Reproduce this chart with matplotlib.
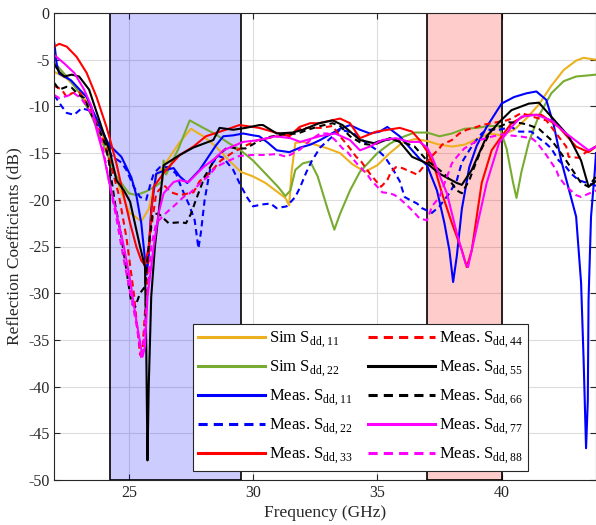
import matplotlib
matplotlib.use('Agg')
import matplotlib.pyplot as plt
from matplotlib.patches import Rectangle

plt.rcParams['font.family'] = ['Liberation Serif', 'DejaVu Serif']
plt.rcParams['mathtext.fontset'] = 'custom'
plt.rcParams['mathtext.rm'] = 'Liberation Serif'
plt.rcParams['axes.unicode_minus'] = False
plt.rcParams['font.size'] = 11

# Sim S_dd,11
f_sim11 = [22, 22.5, 23, 23.5, 24, 24.25, 24.6, 25, 25.5, 25.8, 26.1, 26.5, 27, 27.5, 28, 28.5, 29,
           29.5, 30, 30.5, 31, 31.3, 31.45, 31.55, 31.7, 32, 32.5, 33, 33.5, 34, 34.5, 35, 35.5, 36,
           36.5, 37, 37.5, 38, 38.5, 39, 39.5, 40, 40.5, 41, 41.5, 42, 42.5, 43, 43.3, 43.8]
s_sim11 = [-6.3, -7, -8.3, -10.3, -13.5, -15.3, -18.5, -21.3, -22.3, -21, -17.5, -16, -14, -12.4, -13.2,
           -14.3, -15.7, -17, -17.5, -18.2, -19.2, -19.8, -20.6, -17, -13.9, -13.8, -14.1, -14.5, -15,
           -16.2, -17, -16.3, -15, -13.9, -13.5, -13.7, -14.1, -14.3, -14.1, -13.5, -12.9, -13.1, -12.5,
           -11.3, -9.8, -7.8, -6.1, -5.1, -4.8, -5.0]

# Sim S_dd,22
f_sim22 = [22, 22.5, 23, 23.5, 24, 24.5, 25, 25.3, 25.7, 26.1, 26.35, 26.4, 26.5, 27, 27.45, 28, 28.5,
           29, 29.5, 30, 30.5, 31, 31.3, 31.5, 31.7, 32, 32.3, 32.6, 33, 33.27, 33.5, 33.9, 34.3, 35,
           35.5, 36, 36.5, 37, 37.5, 38, 38.5, 39, 39.5, 39.9, 40.2, 40.45, 40.6, 40.8, 41.1, 41.5, 42,
           42.5, 43, 43.8]
s_sim22 = [-5.3, -6.8, -8.5, -11, -14.3, -17.5, -19.3, -19.5, -19.1, -18.5, -18, -15.8, -17.3, -14.5,
           -11.5, -12.3, -13, -13.9, -14.7, -15.8, -17.2, -18.6, -19.6, -19, -16.8, -16.1, -15.9, -17.5,
           -21, -23.2, -21.5, -19, -17, -15, -14, -13.3, -12.8, -12.8, -13.2, -12.9, -12.4, -12.3, -12.1,
           -12.1, -14.5, -18, -19.8, -17, -13.8, -11, -8.6, -7.3, -6.8, -6.6]

# Meas. S_dd,11
f_m11 = [22, 22.1, 22.2, 22.67, 23.3, 23.9, 24.2, 24.7, 25.1, 25.3, 25.5, 25.65, 25.72, 25.8, 25.9,
         26.1, 26.5, 26.8, 27.05, 27.35, 27.85, 28.5, 28.8, 29.2, 29.6, 30, 30.25, 30.6, 30.95, 31.46,
         31.9, 32.3, 32.7, 33.5, 33.9, 34.3, 34.7, 35.1, 35.4, 35.9, 36.4, 36.7, 37, 37.4, 37.7, 37.9,
         38.05, 38.2, 38.4, 38.7, 39, 39.4, 40, 40.5, 41, 41.4, 41.8, 42.1, 42.4, 43, 43.2, 43.3, 43.4,
         43.47, 43.5, 43.6, 43.75, 43.8]
s_m11 = [-3.2, -5.5, -6.5, -7.2, -9, -12.5, -14.1, -15.4, -17.6, -19.5, -22.5, -26.4, -28, -26, -21,
         -17.2, -16.8, -16.6, -17.5, -18.2, -16.8, -14.2, -13.2, -13.1, -12.9, -13.1, -13.2, -13.9,
         -14.7, -14.9, -14.4, -14.1, -13.6, -12.4, -12, -12.5, -12.9, -12.7, -12.2, -13.2, -14.7, -15.6,
         -16.3, -19, -22.5, -25.4, -28.8, -26, -21, -16.5, -14.2, -12.2, -9.7, -9, -8.6, -8.4, -9.3, -12,
         -15.8, -21.8, -28.9, -37, -46.6, -41.5, -30.7, -21.8, -17, -15]

# Meas. S_dd,22
f_m22 = [22, 22.3, 22.5, 22.8, 23.1, 23.5, 24, 24.3, 24.7, 24.9, 25.2, 25.45, 25.7, 25.85, 26, 26.25,
         26.6, 26.9, 27.1, 27.45, 27.65, 27.8, 27.9, 28.05, 28.3, 28.6, 28.8, 29.2, 29.45, 29.75, 30,
         30.35, 30.7, 30.95, 31.35, 31.7, 31.9, 32.15, 32.35, 32.7, 33.2, 33.5, 34, 34.5, 35.1, 35.3,
         35.6, 35.9, 36.1, 36.3, 36.6, 36.8, 37.2, 37.5, 37.9, 38.2, 38.4, 38.7, 38.9, 39.2, 39.4, 39.9,
         40.4, 40.7, 41.2, 41.5, 41.8, 42, 42.3, 42.6, 42.8, 43.1, 43.8]
s_m22 = [-8.8, -10, -10.7, -10.9, -10.2, -10.5, -13, -15.3, -16, -16.8, -18.6, -19.7, -20, -18.5, -17.2,
         -16.5, -16.5, -17.2, -18.6, -20.7, -22.2, -25.2, -23.5, -20, -16.3, -15.3, -15.5, -16.8, -18.2,
         -19.7, -20.7, -20.5, -20.4, -20.9, -20.7, -19.7, -18.6, -17, -15.9, -14.4, -13.2, -12.5, -12.8,
         -13.8, -14.9, -15.4, -16.6, -18, -19.7, -20, -20.4, -20.9, -21.4, -20.7, -19.3, -17.9, -16,
         -14.7, -13.9, -12.9, -12.5, -12.5, -12.2, -12.7, -12.7, -13.4, -14, -14.5, -15.8, -16.5, -17.2,
         -17.9, -18.5]

# Meas. S_dd,33
f_m33 = [22, 22.2, 22.5, 22.9, 23.3, 23.7, 24.1, 24.3, 24.5, 24.65, 25.05, 25.3, 25.5, 25.65, 25.8,
         25.9, 26, 26.5, 27.05, 27.6, 28.1, 28.9, 29.45, 30, 30.25, 30.9, 31.46, 31.87, 32.3, 32.66,
         33.5, 33.9, 34.3, 34.96, 35.9, 36.4, 36.7, 37, 37.3, 37.6, 38, 38.4, 38.6, 38.8, 39.2, 39.6, 40,
         40.4, 41, 41.6, 42.3, 43, 43.5, 43.8]
s_m33 = [-3.6, -3.3, -3.6, -4.7, -6.4, -9, -12.2, -14.1, -16.1, -17.9, -22.5, -25, -26.5, -27, -25,
         -21.5, -18.6, -16.8, -15.2, -14.3, -13.2, -12.5, -12, -12.2, -12.3, -12.8, -13.2, -12.2, -11.8,
         -11.8, -11.3, -11.8, -13.4, -12.7, -12.3, -12.7, -13.6, -14.8, -16.5, -19.3, -22.5, -25.4,
         -27.2, -25.4, -18.2, -14.7, -13.2, -11.8, -10.9, -10.9, -12.2, -14.3, -14.9, -14.3]

# Meas. S_dd,44
f_m44 = [22, 22.3, 22.5, 22.7, 23, 23.5, 24, 24.3, 24.6, 24.9, 25.2, 25.45, 25.55, 25.7, 25.85, 26.1,
         26.4, 26.7, 27.05, 27.6, 27.85, 28.1, 28.4, 28.7, 29.2, 29.7, 30.2, 30.8, 31.4, 32, 32.7, 33.2,
         33.5, 33.75, 33.9, 34.15, 34.35, 34.7, 34.95, 35.15, 35.4, 35.55, 35.75, 36, 36.35, 36.6, 36.9,
         37.2, 37.5, 37.6, 38, 38.3, 38.6, 39, 39.2, 40.2, 40.4, 40.8, 41.1, 41.8, 42, 42.6, 42.7, 43.1,
         43.5, 43.8]
s_m44 = [-7.8, -8.2, -9, -8.6, -8.4, -10.5, -13.8, -16.5, -19.5, -24, -30, -36.6, -36, -30, -24, -19.3,
         -18.4, -19.2, -19.5, -19.2, -18, -17.5, -16.7, -15.8, -14.9, -14.2, -13.6, -13.3, -13, -12.3,
         -12.3, -12.1, -13.2, -14, -14.5, -15.4, -15.9, -17.2, -18, -18.6, -17.9, -17, -16.5, -16.6, -17,
         -17.3, -16.3, -15.3, -14.5, -14.1, -13.6, -12.9, -12.5, -12.2, -12, -11.5, -11.3, -10.7, -11,
         -11.5, -12.2, -14.3, -15.4, -15.5, -14.7, -14.3]

# Meas. S_dd,55
f_m55 = [22, 22.2, 22.4, 22.7, 23, 23.4, 23.85, 24.25, 24.5, 24.8, 25.05, 25.45, 25.65, 25.7, 25.75,
         25.8, 25.9, 26.05, 26.2, 26.4, 27.05, 27.6, 28.4, 28.65, 29.2, 29.7, 30.25, 30.4, 30.95, 31.6,
         32, 32.66, 33.2, 33.6, 34.3, 34.96, 35.5, 35.9, 36.4, 37, 37.5, 38.2, 38.4, 38.8, 39.4, 39.9,
         40.4, 41.1, 41.5, 42, 42.7, 43.2, 43.5, 43.8]
s_m55 = [-5.5, -6.3, -6.8, -6.6, -6.8, -8.2, -11.8, -15, -17.9, -19, -20.2, -25, -27.2, -35.7, -47.9,
         -40, -30.4, -25, -21.4, -16.3, -15.2, -14.4, -13.6, -12.3, -12.5, -12.3, -12, -12, -12.9, -12.8,
         -12.5, -11.8, -11.5, -12, -13.6, -14, -13.4, -13.8, -15.4, -16.1, -17.2, -18.2, -18.4, -16.8,
         -13.2, -11.7, -10.4, -9.7, -9.6, -11.1, -13.2, -15.8, -18.6, -18]

# Meas. S_dd,66
f_m66 = [22, 22.2, 22.5, 22.7, 23, 23.2, 23.6, 23.8, 24.05, 24.2, 24.45, 24.7, 24.9, 25.1, 25.25,
         25.45, 25.65, 25.8, 25.95, 26.2, 26.6, 27.1, 27.3, 27.5, 27.7, 27.9, 28.05, 28.5, 29, 29.3,
         29.7, 30.1, 30.6, 31.2, 31.8, 32.2, 32.7, 33.2, 33.5, 33.9, 34.4, 34.7, 35.1, 35.6, 36.2, 36.5,
         37, 37.5, 37.8, 38.2, 38.4, 38.7, 38.9, 39.2, 39.6, 39.9, 40.3, 40.8, 41.1, 41.5, 42, 42.2,
         42.6, 42.8, 43.2, 43.5, 43.8]
s_m66 = [-7.5, -8.2, -7.9, -8, -8.8, -9.1, -11.5, -12.5, -14, -16, -20.5, -24, -27.5, -31, -31.5, -30,
         -29.3, -25, -21.5, -21.5, -22.5, -22.4, -22.5, -21.5, -20, -18.6, -17.5, -15.5, -14.3, -14.5,
         -14.5, -13.9, -13.3, -13, -12.9, -12.5, -12.1, -11.8, -12.1, -13.2, -14, -14.1, -13.7, -13.5,
         -14, -14.3, -15.8, -16.8, -17.5, -19, -19.3, -17.9, -16.5, -14.5, -12.5, -12.2, -11.7, -11.8,
         -12, -12.4, -13.6, -14.3, -15.8, -16.6, -18.2, -18.6, -17.5]

# Meas. S_dd,77
f_m77 = [22, 22.4, 22.8, 23.2, 23.5, 23.7, 24, 24.2, 24.5, 24.8, 25.05, 25.3, 25.55, 25.65, 25.75, 26,
         26.2, 26.4, 26.8, 27.05, 27.4, 28, 28.5, 28.8, 29.6, 30.25, 30.9, 31.5, 31.9, 32.66, 33.3,
         33.9, 34.3, 34.7, 35.2, 35.75, 36.3, 36.7, 37, 37.2, 37.8, 38.2, 38.55, 38.65, 38.95, 39.4,
         39.9, 40.4, 40.8, 41.4, 42, 42.6, 43.1, 43.5, 43.8]
s_m77 = [-4.5, -5.4, -6.4, -8.2, -10, -12.5, -15.4, -18, -21.4, -25, -28.6, -32.9, -36.8, -35.7, -30.4,
         -25, -21.4, -19.3, -18.1, -17.9, -18.1, -16.5, -15.5, -14.7, -13.8, -13.6, -13.2, -13.4, -13.8,
         -13.2, -12.9, -13.6, -14.7, -14.3, -13.6, -13.4, -13.8, -13.8, -14.4, -15.4, -19.3, -23.6,
         -26.8, -27.2, -23.6, -18.2, -13.9, -12.2, -11.1, -10.9, -11.5, -12.9, -13.9, -14.7, -14.3]

# Meas. S_dd,88
f_m88 = [22, 22.2, 22.5, 22.8, 23.1, 23.5, 23.8, 24, 24.2, 24.5, 24.8, 25.1, 25.35, 25.5, 25.6, 25.75,
         25.9, 26.1, 26.5, 26.8, 27.2, 27.45, 28, 28.2, 28.5, 28.8, 29.2, 29.45, 30, 30.5, 30.95, 31.35,
         31.7, 31.9, 32.3, 32.7, 33, 33.3, 33.6, 33.8, 34.2, 34.6, 34.75, 35, 35.2, 35.5, 35.7, 35.95,
         36.2, 36.5, 36.7, 37, 37.2, 37.5, 38, 38.2, 38.5, 39, 39.5, 40, 40.3, 40.7, 41.2, 41.4, 41.8,
         42.2, 42.3, 42.6, 42.7, 43, 43.2, 43.8]
s_m88 = [-8.8, -9.1, -8.9, -8.6, -9.2, -10.8, -12.8, -15, -18, -22, -26.5, -30.5, -34, -37, -35, -30,
         -25, -22.5, -21.4, -20.7, -19.7, -19.3, -17.9, -17.5, -16.5, -16.1, -15.6, -15.3, -15.2, -15.2,
         -15.1, -15.4, -14.9, -14.6, -13.6, -12.9, -12.9, -13.6, -14.5, -14.9, -16.2, -17.3, -17.9,
         -18.6, -19.2, -19.3, -19.5, -20, -20.6, -21.4, -22, -22.2, -20.7, -19.7, -16.1, -15.4, -14.5,
         -13.7, -13.3, -13, -13.1, -13.2, -13.4, -13.8, -15.2, -16.8, -17.5, -18.6, -18.8, -19.5, -19.7,
         -19]

orange = '#EDB120'
green = '#77AC30'
dash = (0, (3, 2))

fig = plt.figure(figsize=(5.96, 5.25), dpi=100)
ax = fig.add_axes([54.3 / 596, 45 / 525, (596 - 54.3) / 596, 467 / 525])

# shaded bands
ax.add_patch(Rectangle((24.25, -50), 5.25, 50, facecolor=(0, 0, 1, 0.2), edgecolor='k', lw=1.2, zorder=1))
ax.add_patch(Rectangle((37, -50), 3, 50, facecolor=(1, 0, 0, 0.2), edgecolor='k', lw=1.2, zorder=1))

lw = 1.5
ax.plot(f_sim11, s_sim11, color=orange, lw=lw, label='Sim S$_{\\mathrm{dd,11}}$')
ax.plot(f_sim22, s_sim22, color=green, lw=lw, label='Sim S$_{\\mathrm{dd,22}}$')
ax.plot(f_m11, s_m11, color='b', lw=lw, label='Meas. S$_{\\mathrm{dd,11}}$')
ax.plot(f_m22, s_m22, color='b', lw=lw, ls=dash, label='Meas. S$_{\\mathrm{dd,22}}$')
ax.plot(f_m33, s_m33, color='r', lw=lw, label='Meas. S$_{\\mathrm{dd,33}}$')
ax.plot(f_m44, s_m44, color='r', lw=lw, ls=dash, label='Meas. S$_{\\mathrm{dd,44}}$')
ax.plot(f_m55, s_m55, color='k', lw=lw, label='Meas. S$_{\\mathrm{dd,55}}$')
ax.plot(f_m66, s_m66, color='k', lw=lw, ls=dash, label='Meas. S$_{\\mathrm{dd,66}}$')
ax.plot(f_m77, s_m77, color='#FF00FF', lw=lw, label='Meas. S$_{\\mathrm{dd,77}}$')
ax.plot(f_m88, s_m88, color='#FF00FF', lw=lw, ls=dash, label='Meas. S$_{\\mathrm{dd,88}}$')

ax.set_xlim(22, 43.8)
ax.set_ylim(-50, 0)
ax.set_xticks([25, 30, 35, 40])
ax.set_yticks(range(-50, 1, 5))
ax.grid(True, color='#dcdcdc', lw=0.8)
ax.set_axisbelow(True)
ax.tick_params(direction='in', top=True, right=True, colors='#262626', labelsize=11.5, length=4)
for s in ax.spines.values():
    s.set_color('#262626')
ax.set_xlabel('Frequency (GHz)', color='#262626', fontsize=12.5, labelpad=3)
ax.set_ylabel('Reflection Coefficients (dB)', color='#262626', fontsize=12.5, labelpad=4)

leg = ax.legend(ncol=2, loc='lower left', bbox_to_anchor=(0.256, 0.019), fontsize=12,
                handlelength=4.0, labelspacing=0.52, columnspacing=0.92, handletextpad=0.25,
                fancybox=False, framealpha=1, edgecolor='#262626', borderpad=0.3,
                borderaxespad=0)
leg.get_frame().set_linewidth(0.8)
for line in leg.get_lines():
    line.set_linewidth(2.2)

fig.savefig('out.png', dpi=100)
